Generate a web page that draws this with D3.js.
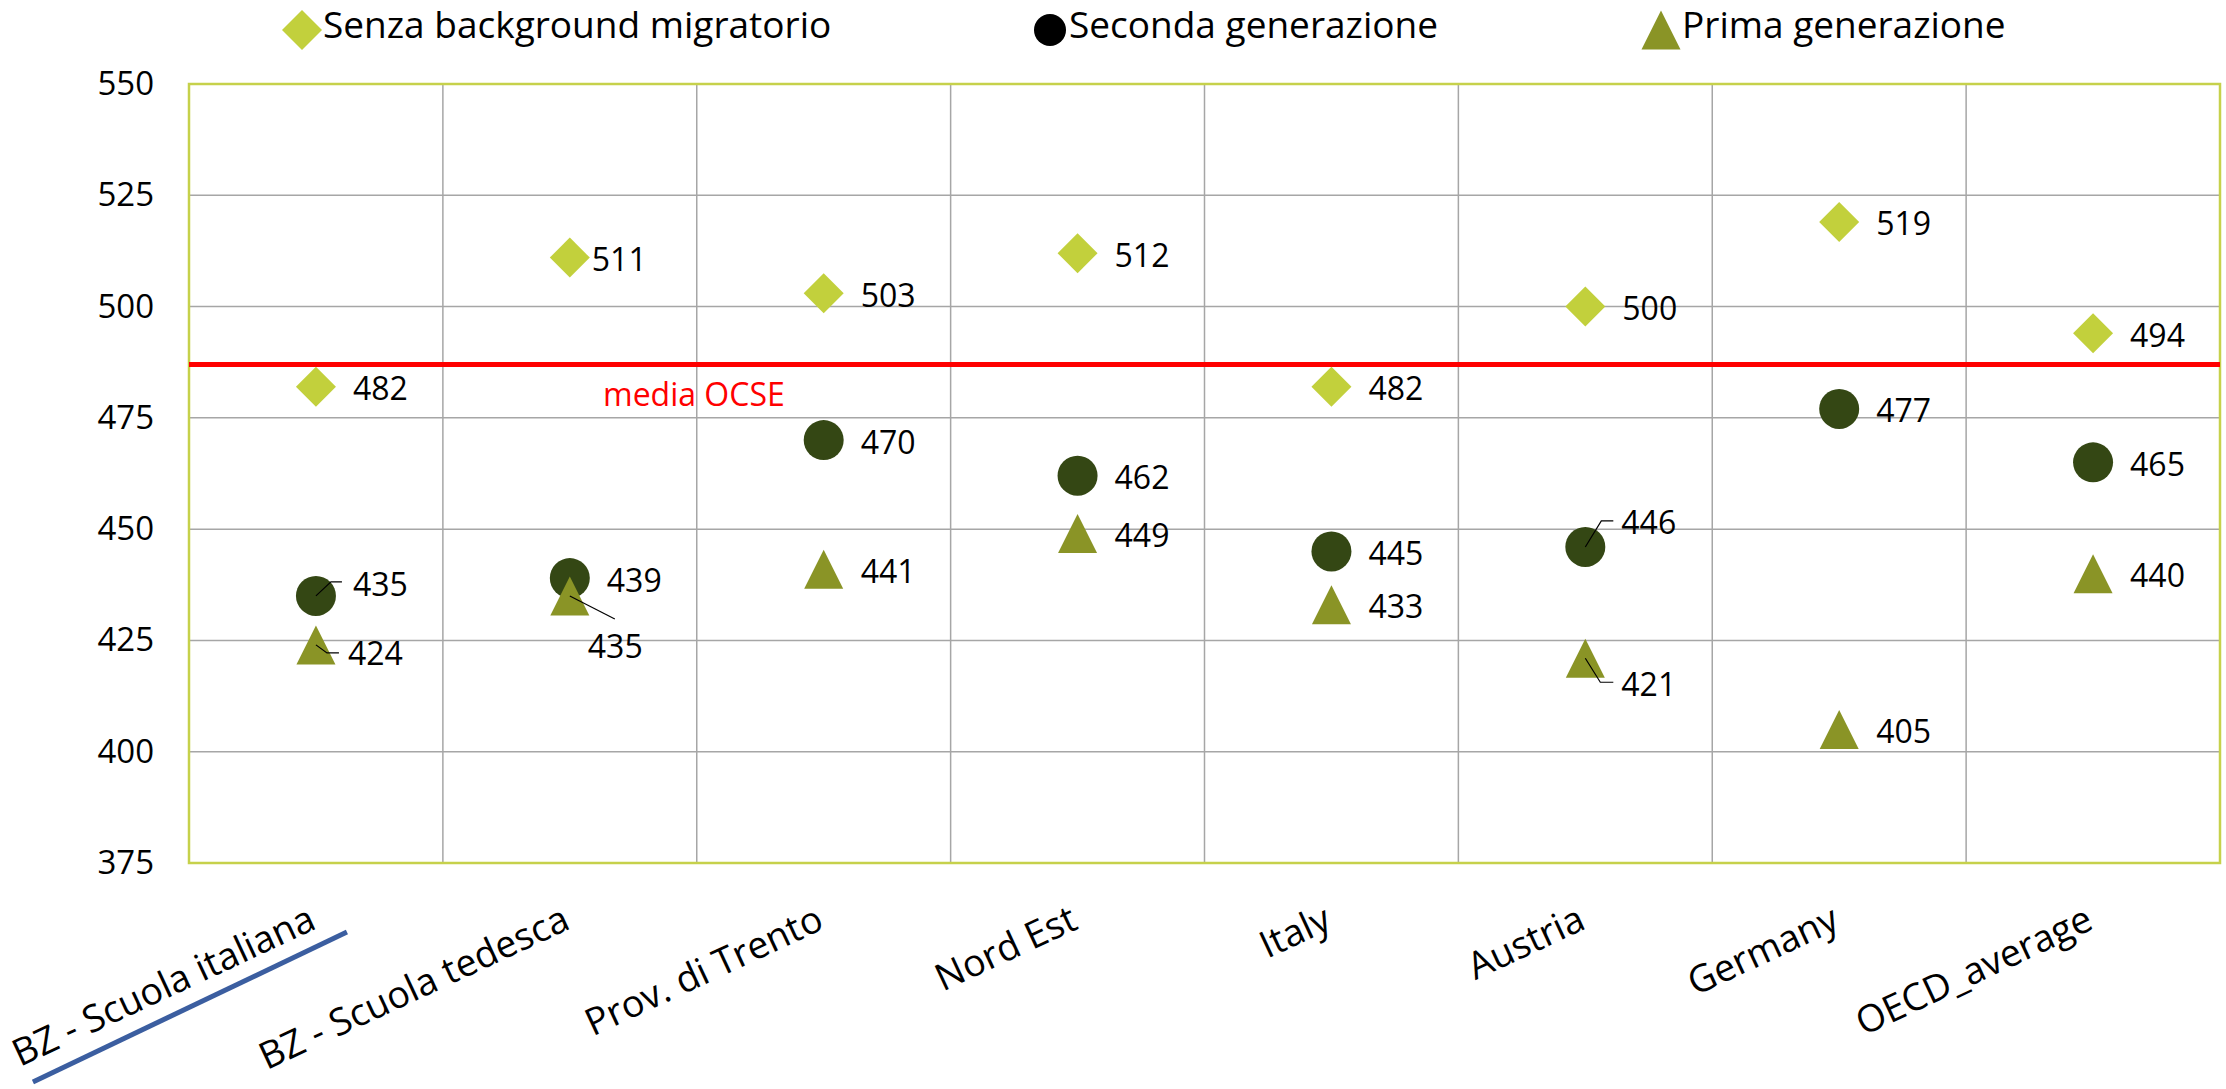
<!DOCTYPE html>
<html>
<head>
<meta charset="utf-8">
<script src="https://cdn.jsdelivr.net/npm/d3@7"></script>
<style>
  body { margin: 0; background: #fff; }
  text { font-family: "Open Sans", "Noto Sans", sans-serif; fill: #000; }
</style>
</head>
<body>
<div id="chart"></div>
<script>
// data
var categories = ["BZ - Scuola italiana", "BZ - Scuola tedesca", "Prov. di Trento", "Nord Est",
                  "Italy", "Austria", "Germany", "OECD_average"];
var senza   = [482, 511, 503, 512, 482, 500, 519, 494];
var seconda = [435, 439, 470, 462, 445, 446, 477, 465];
var prima   = [424, 435, 441, 449, 433, 421, 405, 440];
var yTicks  = [375, 400, 425, 450, 475, 500, 525, 550];
var mediaOcse = 487;
var seriesNames = ["Senza background migratorio", "Seconda generazione", "Prima generazione"];

var width = 2226, height = 1089;
var plotLeft = 189, plotRight = 2220, plotTop = 84, plotBottom = 863;

var colDiamond = "#c2d03c", colCircle = "#344714", colTriangle = "#8a9426";
var colGrid = "#a6a6a6", colBorder = "#c6d14b";

var svg = d3.select("#chart").append("svg")
    .attr("width", width)
    .attr("height", height);

var x = d3.scaleBand().domain(categories).range([plotLeft, plotRight]);
var y = d3.scaleLinear().domain([375, 550]).range([plotBottom, plotTop]);
var cx = function(c) { return x(c) + x.bandwidth() / 2; };

// square-ish triangle as in excel
var triangle = {
  draw: function(ctx, size) {
    var s = Math.sqrt(size);
    ctx.moveTo(0, -s / 2);
    ctx.lineTo(s / 2, s / 2);
    ctx.lineTo(-s / 2, s / 2);
    ctx.closePath();
  }
};
var diamondPath = d3.symbol().type(d3.symbolSquare).size(800)();
var circlePath = d3.symbol().type(d3.symbolCircle).size(Math.PI * 20 * 20)();
var trianglePath = d3.symbol().type(triangle).size(39 * 39)();

// grid
svg.append("g").selectAll("line.h")
  .data(yTicks.slice(1, -1))
  .enter().append("line")
    .attr("x1", plotLeft).attr("x2", plotRight)
    .attr("y1", d => y(d)).attr("y2", d => y(d))
    .attr("stroke", colGrid).attr("stroke-width", 1.5);

svg.append("g").selectAll("line.v")
  .data(categories.slice(1))
  .enter().append("line")
    .attr("x1", d => x(d)).attr("x2", d => x(d))
    .attr("y1", plotTop).attr("y2", plotBottom)
    .attr("stroke", colGrid).attr("stroke-width", 1.5);

svg.append("rect")
  .attr("x", plotLeft).attr("y", plotTop)
  .attr("width", plotRight - plotLeft).attr("height", plotBottom - plotTop)
  .attr("fill", "none").attr("stroke", colBorder).attr("stroke-width", 2.5);

// y axis labels
var yAxis = svg.append("g")
  .attr("transform", "translate(" + plotLeft + ",0)")
  .call(d3.axisLeft(y).tickValues(yTicks).tickSize(0).tickPadding(35));
yAxis.select(".domain").remove();
yAxis.selectAll("text")
  .style("font-family", "Open Sans")
  .style("font-size", "33px")
  .attr("fill", "#000");

// category labels, rotated
svg.append("g").selectAll("text")
  .data(categories)
  .enter().append("text")
    .attr("text-anchor", "end")
    .attr("transform", d => "translate(" + (cx(d) + 2) + ",928) rotate(-25)")
    .style("font-size", "37.5px")
    .text(d => d);

// blue underline on the first label
svg.append("line")
  .attr("x1", cx(categories[0]) - 283).attr("y1", 1082)
  .attr("x2", cx(categories[0]) + 31).attr("y2", 932)
  .attr("stroke", "#3b5ea0").attr("stroke-width", 5);

// OECD mean line
svg.append("line")
  .attr("x1", plotLeft).attr("x2", plotRight)
  .attr("y1", y(mediaOcse)).attr("y2", y(mediaOcse))
  .attr("stroke", "#ff0000").attr("stroke-width", 5);
svg.append("text")
  .attr("x", 603).attr("y", y(mediaOcse) + 42)
  .style("font-size", "32px")
  .style("fill", "#ff0000")
  .text("media OCSE");

// markers
svg.append("g").selectAll("path")
  .data(senza)
  .enter().append("path")
    .attr("d", diamondPath)
    .attr("transform", (d, i) => "translate(" + cx(categories[i]) + "," + y(d) + ") rotate(45)")
    .attr("fill", colDiamond);

svg.append("g").selectAll("path")
  .data(seconda)
  .enter().append("path")
    .attr("d", circlePath)
    .attr("transform", (d, i) => "translate(" + cx(categories[i]) + "," + y(d) + ")")
    .attr("fill", colCircle);

svg.append("g").selectAll("path")
  .data(prima)
  .enter().append("path")
    .attr("d", trianglePath)
    .attr("transform", (d, i) => "translate(" + cx(categories[i]) + "," + y(d) + ")")
    .attr("fill", colTriangle);

// value labels; a few were dragged away with leader lines
var moved = {
  "0-1": { dx: 22, dy: 1 },
  "1-0": { dx: 37, dy: -12, leader: [[15, -14], [26, -14]] },
  "2-0": { dx: 32, dy: 8, leader: [[11, 8], [23, 8]] },
  "2-1": { dx: 18, dy: 50, leader: [[45, 23]] },
  "1-5": { dx: 36, dy: -25, leader: [[16, -26], [28, -26]] },
  "2-5": { dx: 36, dy: 25, leader: [[15, 24], [28, 24]] }
};

[senza, seconda, prima].forEach(function(vals, s) {
  vals.forEach(function(v, i) {
    var px = cx(categories[i]), py = y(v);
    var m = moved[s + "-" + i] || { dx: 37, dy: 1 };
    if (m.leader) {
      var pts = [[px, py]].concat(m.leader.map(p => [px + p[0], py + p[1]]));
      svg.append("path")
        .attr("d", d3.line()(pts))
        .attr("fill", "none")
        .attr("stroke", "#000")
        .attr("stroke-width", 1.2);
    }
    svg.append("text")
      .attr("x", px + m.dx)
      .attr("y", py + m.dy)
      .attr("dominant-baseline", "central")
      .style("font-size", "32px")
      .text(v);
  });
});

// legend
var legendX = [302, 1050, 1661];
var legendShapes = [
  { d: diamondPath, rot: 45, fill: colDiamond },
  { d: d3.symbol().type(d3.symbolCircle).size(Math.PI * 16 * 16)(), rot: 0, fill: "#000" },
  { d: trianglePath, rot: 0, fill: colTriangle }
];
var legend = svg.append("g").selectAll("g")
  .data(seriesNames)
  .enter().append("g")
    .attr("transform", (d, i) => "translate(" + legendX[i] + ",30)");
legend.append("path")
  .attr("d", (d, i) => legendShapes[i].d)
  .attr("transform", (d, i) => "rotate(" + legendShapes[i].rot + ")")
  .attr("fill", (d, i) => legendShapes[i].fill);
legend.append("text")
  .attr("x", (d, i) => i == 1 ? 19 : 21)
  .attr("y", 8)
  .style("font-size", "37px")
  .text(d => d);
</script>
</body>
</html>
